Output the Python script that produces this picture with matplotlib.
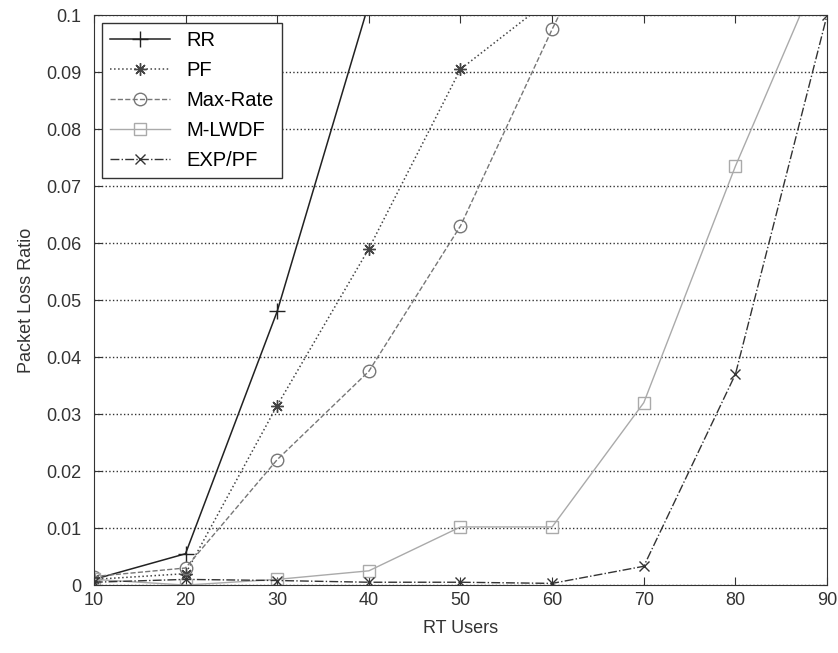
import matplotlib
matplotlib.use("Agg")
from matplotlib import pyplot as plt

users = [10, 20, 30, 40, 50, 60, 70, 80, 90]
rr = [0.001, 0.0055, 0.048, 0.102]
pf = [0.001, 0.002, 0.0315, 0.059, 0.0905, 0.103]
max_rate = [0.0015, 0.003, 0.022, 0.0375, 0.063, 0.0975, 0.13]
mlwdf = [0.001, 0.0, 0.001, 0.0025, 0.0102, 0.0102, 0.032, 0.0735, 0.111]
exp_pf = [0.0005, 0.001, 0.0008, 0.0005, 0.0005, 0.0003, 0.0033, 0.037, 0.1]

plt.rcParams['font.family'] = ['Liberation Sans', 'DejaVu Sans']

fig = plt.figure(figsize=(8.38, 6.53), dpi=100)
ax = fig.add_axes([0.112, 0.104, 0.875, 0.873])

ax.plot(users[:len(rr)], rr, color="#222222", ls="-", marker="+", ms=11, lw=1.1, label="RR")
ax.plot(users[:len(pf)], pf, color="#444444", ls=":", marker=(8, 2, 0), ms=9, lw=1.1, label="PF")
ax.plot(users[:len(max_rate)], max_rate, color="#777777", ls="--", marker="o", ms=9,
        mfc="none", lw=1.0, label="Max-Rate")
ax.plot(users, mlwdf, color="#aaaaaa", ls="-", marker="s", ms=9, mfc="none", lw=1.0,
        label="M-LWDF")
ax.plot(users, exp_pf, color="#333333", ls="-.", marker="x", ms=7, lw=1.0, label="EXP/PF")

ax.set_xlim(10, 90)
ax.set_ylim(0, 0.1)
ax.set_xticks(range(10, 91, 10))
ax.set_yticks([i / 100 for i in range(11)])
ax.set_yticklabels(["0"] + [f"{i / 100:g}" for i in range(1, 11)])
ax.tick_params(direction="in", top=True, right=True, labelsize=13, colors="#333333", length=6)
ax.tick_params(axis="x", pad=5)
ax.tick_params(axis="y", pad=9)
ax.yaxis.grid(True, ls=":", color="#333333", lw=1.0)
ax.set_xlabel("RT Users", fontsize=13, color="#333333", labelpad=8)
ax.set_ylabel("Packet Loss Ratio", fontsize=13, color="#333333", labelpad=8)
for s in ax.spines.values():
    s.set_color("#333333")

leg = ax.legend(loc="upper left", fontsize=14.5, handlelength=3.0, fancybox=False,
                framealpha=1, edgecolor="#333333", borderaxespad=0.4, labelspacing=0.55)

fig.savefig("out.png", dpi=100)
